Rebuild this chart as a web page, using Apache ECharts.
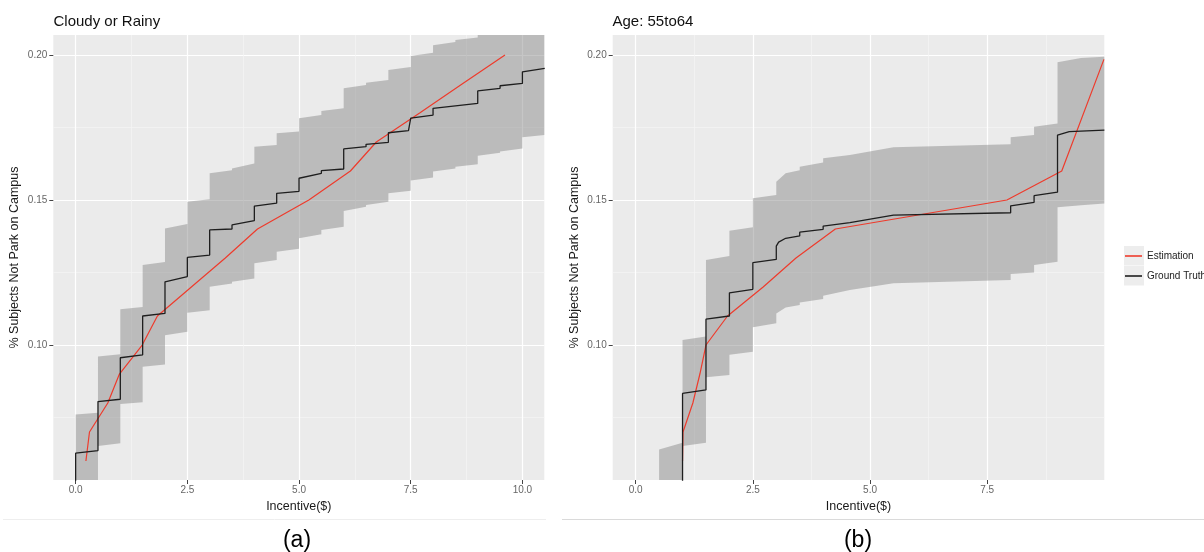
<!DOCTYPE html>
<html><head><meta charset="utf-8">
<script src="https://cdn.jsdelivr.net/npm/echarts@6/dist/echarts.min.js"></script>
<style>html,body{margin:0;padding:0;background:#fff}#c{width:1204px;height:552px}</style>
</head><body><div id="c"></div>
<script>
// ---------- tick values ----------
const xTicks = [0, 2.5, 5, 7.5, 10];
const xMinor = [1.25, 3.75, 6.25, 8.75];
const yTicks = [0.10, 0.15, 0.20];
const yMinor = [0.075, 0.125, 0.175];

const titleA = 'Cloudy or Rainy';
const titleB = 'Age: 55to64';
const xName = 'Incentive($)';
const yName = '% Subjects Not Park on Campus';
const legendNames = ['Estimation', 'Ground Truth'];

// ---------- panel (a) ----------
const aBandX = [0,0.5, 0.5,1, 1,1.5, 1.5,2, 2,2.5, 2.5,3, 3,3.5, 3.5,4, 4,4.5, 4.5,5, 5,5.5, 5.5,6, 6,6.5, 6.5,7, 7,7.5, 7.5,8, 8,8.5, 8.5,9, 9,9.5, 9.5,10, 10,10.5];
const aBandHi = [0.0760,0.0766, 0.0960,0.0968, 0.1123,0.1131, 0.1276,0.1286, 0.1402,0.1417, 0.1494,0.1503, 0.1592,0.1603, 0.1609,0.1626, 0.1684,0.1690, 0.1730,0.1736, 0.1782,0.1793, 0.1807,0.1816, 0.1885,0.1897, 0.1904,0.1914, 0.1948,0.1959, 0.1997,0.2008, 0.2034,0.2045, 0.2052,0.2060, 0.2090,0.2100, 0.2110,0.2120, 0.2150,0.2160];
const aBandLo = [0.0450,0.0460, 0.0652,0.0661, 0.0797,0.0803, 0.0925,0.0933, 0.1034,0.1046, 0.1111,0.1120, 0.1201,0.1212, 0.1218,0.1229, 0.1282,0.1293, 0.1322,0.1332, 0.1368,0.1382, 0.1397,0.1408, 0.1462,0.1477, 0.1483,0.1494, 0.1523,0.1532, 0.1567,0.1578, 0.1598,0.1609, 0.1615,0.1623, 0.1653,0.1663, 0.1667,0.1678, 0.1716,0.1724];
const aTruthX = [0,0, 0.5,0.5, 1,1, 1.5,1.5, 2,2, 2.5,2.5, 3,3, 3.5,3.5, 4,4, 4.5,4.5, 5,5, 5.5,5.5, 6,6, 6.5,6.5, 7,7, 7.45,7.5, 8,8, 9,9, 9.5,9.5, 10,10, 10.5];
const aTruthY = [0.0450,0.0627, 0.0636,0.0805, 0.0813,0.0956, 0.0966,0.1100, 0.1109,0.1218, 0.1236,0.1302, 0.1310,0.1397, 0.1400,0.1414, 0.1429,0.1479, 0.1489,0.1523, 0.1530,0.1575, 0.1592,0.1601, 0.1607,0.1676, 0.1684,0.1692, 0.1699,0.1732, 0.1739,0.1782, 0.1793,0.1816, 0.1833,0.1876, 0.1885,0.1894, 0.1902,0.1942, 0.1954];
const aEstX = [0.23, 0.31, 0.72, 0.98, 1.49, 1.83, 2.59, 3.35, 4.07, 5.22, 6.15, 6.73, 7.70, 8.65, 9.61];
const aEstY = [0.060, 0.070, 0.080, 0.090, 0.100, 0.110, 0.120, 0.130, 0.140, 0.150, 0.160, 0.170, 0.180, 0.190, 0.200];

// ---------- panel (b) ----------
const bBandX = [0.5,1, 1,1.5, 1.5,2, 2,2.5, 2.5,3, 3,3.2,3.5, 3.5,4, 4,4.57,5.5,8, 8,8.5, 8.5,9, 9,9.5,10];
const bBandHi = [0.0640,0.0663, 0.1017,0.1029, 0.1293,0.1307, 0.1394,0.1406, 0.1506,0.1517, 0.1563,0.1592,0.1603, 0.1615,0.1629, 0.1644,0.1655,0.1682,0.1692, 0.1716,0.1724, 0.1753,0.1764, 0.1975,0.1990,0.1994];
const bBandLo = [0.0450,0.0450, 0.0652,0.0663, 0.0889,0.0897, 0.0966,0.0977, 0.1061,0.1075, 0.1109,0.1129,0.1138, 0.1147,0.1159, 0.1170,0.1190,0.1213,0.1224, 0.1245,0.1250, 0.1276,0.1287, 0.1475,0.1482,0.1488];
const bTruthX = [1,1, 1.5,1.5, 2,2, 2.5,2.5, 3,3, 3.05,3.2,3.5, 3.5,4, 4,4.57,5.5,8, 8,8.5, 8.5,9, 9,9.25,10];
const bTruthY = [0.0450,0.0833, 0.0845,0.1089, 0.1100,0.1180, 0.1192,0.1284, 0.1295,0.1341, 0.1355,0.1368,0.1376, 0.1389,0.1399, 0.1410,0.1422,0.1448,0.1456, 0.1480,0.1492, 0.1515,0.1527, 0.1724,0.1736,0.1741];
const bEstX = [1.00, 1.01, 1.22, 1.37, 1.50, 1.96, 2.72, 3.42, 4.26, 7.92, 9.09, 9.99];
const bEstY = [0.060, 0.070, 0.080, 0.090, 0.100, 0.110, 0.120, 0.130, 0.140, 0.150, 0.160, 0.1985];

// ---------- axis extents ----------
const aXRange = [-0.5, 10.49];
const bXRange = [-0.49, 9.998];
const yRange = [0.05345, 0.2069];

const FONT = '"Liberation Sans", Arial, Helvetica, sans-serif';
const RED = '#EE3B2C';
const BLACK = '#1E1E1E';
const BAND = 'rgba(128,128,128,0.45)';

const zip = (xs, ys) => xs.map((x, i) => [x, ys[i]]);

function majorX(grid, range) {
  return {
    gridIndex: grid, type: 'value', min: range[0], max: range[1], position: 'bottom',
    axisLine: { show: false, onZero: false },
    axisTick: { show: true, customValues: xTicks, length: 4, lineStyle: { color: '#444', width: 1 } },
    axisLabel: { customValues: xTicks, formatter: v => v.toFixed(1), fontSize: 10, color: '#666', margin: 5, fontFamily: FONT },
    splitLine: { show: true, lineStyle: { color: '#FFFFFF', width: 1.2 } },
    name: xName, nameLocation: 'middle', nameGap: 19,
    nameTextStyle: { fontSize: 12.5, color: '#1a1a1a', fontFamily: FONT }
  };
}
function minorX(grid, range) {
  return {
    gridIndex: grid, type: 'value', min: range[0], max: range[1], position: 'bottom',
    axisLine: { show: false, onZero: false },
    axisTick: { show: false, customValues: xMinor },
    axisLabel: { show: false, customValues: xMinor },
    splitLine: { show: true, lineStyle: { color: '#F5F5F5', width: 0.7 } }
  };
}
function majorY(grid) {
  return {
    gridIndex: grid, type: 'value', min: yRange[0], max: yRange[1], position: 'left',
    axisLine: { show: false, onZero: false },
    axisTick: { show: true, customValues: yTicks, length: 4, lineStyle: { color: '#444', width: 1 } },
    axisLabel: { customValues: yTicks, formatter: v => v.toFixed(2), fontSize: 10, color: '#666', margin: 6, fontFamily: FONT },
    splitLine: { show: true, lineStyle: { color: '#FFFFFF', width: 1.2 } },
    name: yName, nameLocation: 'middle', nameGap: 32,
    nameTextStyle: { fontSize: 12.5, color: '#1a1a1a', fontFamily: FONT }
  };
}
function minorY(grid) {
  return {
    gridIndex: grid, type: 'value', min: yRange[0], max: yRange[1], position: 'left',
    axisLine: { show: false, onZero: false },
    axisTick: { show: false, customValues: yMinor },
    axisLabel: { show: false, customValues: yMinor },
    splitLine: { show: true, lineStyle: { color: '#F5F5F5', width: 0.7 } }
  };
}

function bandSeries(idx, bx, lo, hi, xr) {
  const cl = (v, a, b) => Math.min(b, Math.max(a, v));
  return {
    type: 'custom', name: 'band' + idx, xAxisIndex: idx, yAxisIndex: idx, z: 1, silent: true, clip: true,
    data: bx.map((x, i) => [x, lo[i], hi[i]]),
    encode: { x: 0, y: [1, 2] },
    renderItem: function (params, api) {
      if (params.dataIndex !== 0) return null;
      const pts = [];
      for (let i = 0; i < bx.length; i++) pts.push(api.coord([cl(bx[i], xr[0], xr[1]), cl(hi[i], yRange[0], yRange[1])]));
      for (let i = bx.length - 1; i >= 0; i--) pts.push(api.coord([cl(bx[i], xr[0], xr[1]), cl(lo[i], yRange[0], yRange[1])]));
      return { type: 'polygon', shape: { points: pts }, style: { fill: BAND } };
    }
  };
}
function lineSeries(idx, name, xs, ys, color, w) {
  return {
    type: 'line', name: name, xAxisIndex: idx, yAxisIndex: idx, z: 3, clip: true,
    data: zip(xs, ys), showSymbol: false, symbol: 'none', silent: true,
    itemStyle: { color: color }, lineStyle: { color: color, width: w }
  };
}

const chart = echarts.init(document.getElementById('c'), null, { renderer: 'canvas' });
chart.setOption({
  animation: false,
  backgroundColor: '#FFFFFF',
  textStyle: { fontFamily: FONT },
  title: [
    { text: titleA, left: 53.5, top: 14, padding: 0, textStyle: { fontSize: 15, fontWeight: 'normal', color: '#111', fontFamily: FONT } },
    { text: titleB, left: 612.5, top: 14, padding: 0, textStyle: { fontSize: 15, fontWeight: 'normal', color: '#111', fontFamily: FONT } }
  ],
  grid: [
    { left: 53.3, top: 35, width: 491, height: 445, show: true, backgroundColor: '#EBEBEB', borderWidth: 0 },
    { left: 612.7, top: 35, width: 491.6, height: 445, show: true, backgroundColor: '#EBEBEB', borderWidth: 0 }
  ],
  xAxis: [majorX(0, aXRange), majorX(1, bXRange), minorX(0, aXRange), minorX(1, bXRange)],
  yAxis: [majorY(0), majorY(1), minorY(0), minorY(1)],
  legend: {
    data: legendNames, orient: 'vertical', left: 1125, top: 250, padding: 0,
    itemWidth: 17, itemHeight: 1.6, itemGap: 8, icon: 'rect', selectedMode: false,
    textStyle: { fontSize: 10, color: '#222', lineHeight: 12, fontFamily: FONT }
  },
  graphic: [
    { type: 'rect', shape: { x: 1124, y: 246, width: 20, height: 19.5 }, style: { fill: '#EDEDED' }, z: -1 },
    { type: 'rect', shape: { x: 1124, y: 266, width: 20, height: 19.5 }, style: { fill: '#EDEDED' }, z: -1 },
    { type: 'line', shape: { x1: 3, y1: 519.5, x2: 546, y2: 519.5 }, style: { stroke: '#EEEEEE', lineWidth: 1 } },
    { type: 'line', shape: { x1: 562, y1: 519.5, x2: 1204, y2: 519.5 }, style: { stroke: '#DADADA', lineWidth: 1 } },
    { type: 'text', x: 297, y: 541, style: { text: '(a)', font: '23px ' + FONT, fill: '#000', textAlign: 'center', textVerticalAlign: 'middle' } },
    { type: 'text', x: 858, y: 541, style: { text: '(b)', font: '23px ' + FONT, fill: '#000', textAlign: 'center', textVerticalAlign: 'middle' } }
  ],
  series: [
    bandSeries(0, aBandX, aBandLo, aBandHi, aXRange),
    lineSeries(0, 'Estimation', aEstX, aEstY, RED, 1.2),
    lineSeries(0, 'Ground Truth', aTruthX, aTruthY, BLACK, 1.3),
    bandSeries(1, bBandX, bBandLo, bBandHi, bXRange),
    lineSeries(1, 'Estimation', bEstX, bEstY, RED, 1.2),
    lineSeries(1, 'Ground Truth', bTruthX, bTruthY, BLACK, 1.3)
  ]
});
</script>
</body></html>
